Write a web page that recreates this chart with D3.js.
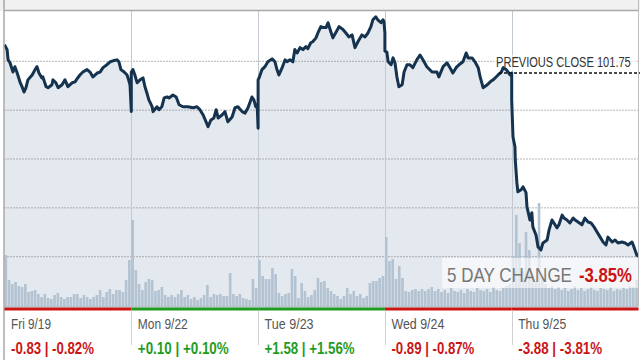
<!DOCTYPE html>
<html>
<head>
<meta charset="utf-8">
<script src="https://cdn.jsdelivr.net/npm/d3@7/dist/d3.min.js"></script>
<style>
  html, body { margin: 0; padding: 0; background: #fff; }
  svg { display: block; font-family: "Liberation Sans", Arial, sans-serif; }
</style>
</head>
<body>
<svg id="chart" width="640" height="360"></svg>
<script>
// five trading days, intraday prices as [minutes after open, price]
const days = ["Fri 9/19", "Mon 9/22", "Tue 9/23", "Wed 9/24", "Thu 9/25"];
const dayChange = [-0.83, 0.10, 1.58, -0.89, -3.88];
const dayChangePct = [-0.82, 0.10, 1.56, -0.87, -3.81];
const previousClose = 101.75;
const fiveDayChangePct = -3.85;
const priceGrid = [98, 99, 100, 101, 102];

const priceFri = [[0,102.33],[8,102.23],[11,102.02],[17,101.96],[26,101.77],[32,101.88],[38,101.77],[48,101.56],[54,101.47],[60,101.36],[66,101.45],[72,101.61],[85,101.71],[94,101.82],[100,101.88],[106,101.75],[115,101.65],[118,101.67],[128,101.47],[134,101.45],[146,101.51],[149,101.61],[158,101.55],[165,101.45],[177,101.51],[186,101.61],[195,101.47],[208,101.55],[217,101.57],[223,101.63],[232,101.71],[241,101.77],[254,101.82],[263,101.77],[272,101.67],[285,101.75],[294,101.77],[303,101.86],[315,101.92],[325,101.98],[334,102.00],[346,102.02],[352,101.98],[358,101.82],[368,101.77],[377,101.71],[380,101.65],[386,101.51],[390,100.96]];
const priceMon = [[0,101.77],[5,101.82],[11,101.71],[18,101.55],[27,101.61],[36,101.65],[42,101.47],[48,101.34],[54,101.20],[64,101.06],[67,100.96],[79,101.06],[85,101.00],[94,101.06],[101,101.24],[110,101.26],[116,101.24],[128,101.30],[138,101.26],[147,101.10],[159,101.06],[174,101.06],[190,101.04],[202,101.06],[211,101.00],[221,100.89],[230,100.75],[236,100.65],[245,100.79],[254,100.83],[261,101.00],[267,100.83],[279,100.89],[288,100.96],[297,100.75],[310,100.85],[319,101.04],[328,101.06],[341,100.96],[350,100.93],[359,101.04],[371,101.26],[377,101.20],[383,101.06],[387,101.10],[390,100.62]];
const priceTue = [[0,101.61],[3,101.65],[12,101.82],[21,101.88],[30,101.98],[43,102.04],[52,101.98],[58,101.82],[64,101.71],[74,101.86],[83,102.02],[89,101.98],[98,102.02],[107,101.98],[113,102.23],[120,102.16],[129,102.27],[138,102.23],[147,102.29],[153,102.25],[162,102.37],[168,102.39],[178,102.47],[184,102.57],[193,102.70],[199,102.68],[209,102.68],[215,102.78],[224,102.59],[230,102.47],[240,102.59],[249,102.70],[261,102.64],[270,102.57],[279,102.49],[289,102.53],[298,102.27],[307,102.39],[319,102.53],[329,102.49],[338,102.57],[347,102.70],[353,102.84],[362,102.90],[368,102.84],[378,102.78],[384,102.84],[387,102.80],[390,102.57]];
const priceWed = [[0,102.20],[6,102.18],[10,101.98],[19,101.92],[25,102.06],[31,101.96],[37,101.67],[43,101.47],[53,101.51],[59,101.77],[68,101.92],[77,101.92],[86,101.86],[98,102.02],[108,102.12],[117,102.02],[129,101.88],[145,101.77],[160,101.77],[166,101.67],[179,101.88],[191,101.96],[200,101.86],[209,101.75],[219,101.86],[228,101.92],[240,101.98],[250,102.16],[256,102.06],[268,102.06],[277,101.98],[287,101.86],[293,101.67],[302,101.45],[315,101.51],[324,101.57],[333,101.61],[342,101.67],[348,101.71],[358,101.77],[364,101.86],[373,101.82],[379,101.77],[385,101.71],[390,101.75]];
const priceThu = [[0,101.20],[4,100.44],[10,100.24],[11,99.97],[16,99.50],[19,99.32],[29,99.36],[35,99.42],[44,99.30],[47,99.01],[56,98.74],[62,98.89],[65,98.60],[75,98.43],[81,98.19],[90,98.13],[96,98.27],[109,98.33],[115,98.54],[124,98.74],[130,98.68],[139,98.58],[145,98.64],[155,98.84],[161,98.78],[170,98.74],[179,98.68],[189,98.78],[195,98.74],[204,98.70],[216,98.64],[225,98.78],[235,98.70],[244,98.68],[253,98.60],[262,98.50],[272,98.39],[281,98.29],[290,98.23],[296,98.39],[309,98.29],[318,98.33],[327,98.27],[339,98.29],[349,98.27],[358,98.23],[370,98.29],[376,98.19],[385,98.02],[390,98.00]];

// 10-minute volume, thousands of shares
const volFri = [510,260,220,240,200,190,220,140,150,160,120,90,120,80,70,110,130,90,70,90,90,120,120,80,110,90,70,90,110,160,90,140,170,120,160,160,140,260,460];
const volMon = [860,360,220,160,240,270,260,150,160,190,110,90,110,90,120,160,90,110,70,90,60,80,110,210,90,120,110,120,100,100,330,120,100,120,80,70,60,270,180];
const volTue = [460,300,270,270,380,320,130,100,120,130,370,300,80,230,150,90,110,160,280,240,250,180,150,120,100,70,100,180,120,150,100,120,80,100,230,250,250,280,300];
const volWed = [690,450,470,270,400,280,150,140,160,170,150,170,150,170,190,150,170,140,160,130,180,150,140,160,130,170,150,140,180,160,150,170,140,190,160,150,180,200,220];
const volThu = [500,910,630,350,740,560,300,250,1030,300,220,180,200,170,190,160,180,150,170,200,160,180,150,170,190,160,150,180,170,160,190,150,170,160,180,170,200,190,260];

const prices = [priceFri, priceMon, priceTue, priceWed, priceThu];
const volumes = [volFri, volMon, volTue, volWed, volThu];
const minutesPerDay = 390;
const volStep = 10;

const svg = d3.select("#chart");
const W = 640, H = 360;
const plotTop = 11, plotBottom = 306, plotLeft = 4.5, plotRight = 638.5;

const x = d3.scaleLinear().domain([0, days.length * minutesPerDay]).range([plotLeft, plotRight]);
const y = d3.scaleLinear().domain([96.98, 103.02]).range([plotBottom, plotTop]);
const yVol = d3.scaleLinear().domain([0, 1000]).range([plotBottom, plotBottom - 100]);

const series = prices.flatMap((day, i) => day.map(([t, p]) => ({ t: i * minutesPerDay + t, p })));
const volData = volumes.flatMap((day, i) => day.map((v, j) => ({ t: i * minutesPerDay + j * volStep, v })));

const red = "#cc1414", green = "#1f9c1f";

// squeeze a text to a given width (the original type is narrow)
function fit(sel, px, py, w) {
    sel.each(function (d, i) {
        const t = d3.select(this);
        const n = this.getComputedTextLength();
        const tw = typeof w === "function" ? w(d, i) : w;
        const tx = typeof px === "function" ? px(d, i) : px;
        t.attr("transform", `translate(${tx},${py}) scale(${tw / n},1)`);
    });
}

// top strip
svg.append("rect").attr("x", 0).attr("y", 0).attr("width", W).attr("height", plotTop).attr("fill", "#f1f1f1");

// area under the price
svg.append("path")
    .datum(series)
    .attr("fill", "#e4e9f0")
    .attr("d", d3.area().x(d => x(d.t)).y0(plotBottom + 1).y1(d => y(d.p)));

// dotted price grid
svg.append("g")
    .attr("transform", `translate(${plotLeft},0)`)
    .call(d3.axisLeft(y).tickValues(priceGrid).tickSize(-(plotRight - plotLeft)).tickFormat(""))
    .call(g => g.select(".domain").remove())
    .call(g => g.selectAll(".tick line")
        .attr("stroke", "#6f6f6f")
        .attr("stroke-dasharray", "1,2"));

// day dividers
svg.append("g")
    .selectAll("line")
    .data(d3.range(1, days.length))
    .join("line")
    .attr("x1", i => Math.round(x(i * minutesPerDay)) + 0.5)
    .attr("x2", i => Math.round(x(i * minutesPerDay)) + 0.5)
    .attr("y1", plotTop)
    .attr("y2", plotBottom)
    .attr("stroke", "#c3c9d1");

// volume bars
svg.append("g")
    .selectAll("rect")
    .data(volData)
    .join("rect")
    .attr("x", d => x(d.t))
    .attr("width", d => x(d.t + volStep) - x(d.t) - 0.6)
    .attr("y", d => yVol(d.v))
    .attr("height", d => plotBottom - yVol(d.v))
    .attr("fill", "#b3c3d1");

svg.append("rect").attr("x", plotLeft).attr("y", plotBottom).attr("width", plotRight - plotLeft).attr("height", 1.5).attr("fill", "#b7c4cf");

// previous close label background
svg.append("rect")
    .attr("x", 494).attr("y", 55).attr("width", 142).attr("height", 15)
    .attr("fill", "#fff").attr("opacity", 0.6);

// price line
svg.append("path")
    .datum(series)
    .attr("fill", "none")
    .attr("stroke", "#15334f")
    .attr("stroke-width", 3)
    .attr("stroke-linejoin", "round")
    .attr("d", d3.line().x(d => x(d.t)).y(d => y(d.p)));

svg.append("line")
    .attr("x1", 499).attr("x2", W)
    .attr("y1", y(previousClose)).attr("y2", y(previousClose))
    .attr("stroke", "#111").attr("stroke-width", 1.4).attr("stroke-dasharray", "3,2");

svg.append("text")
    .attr("font-size", 14).attr("fill", "#333")
    .text("PREVIOUS CLOSE " + previousClose.toFixed(2))
    .call(fit, 496, 67, 135);

// 5 day change box
svg.append("rect")
    .attr("x", 442).attr("y", 258).attr("width", W - 442).attr("height", 30)
    .attr("fill", "#fff").attr("opacity", 0.6);
svg.append("text")
    .attr("font-size", 21).attr("fill", "#777")
    .text("5 DAY CHANGE")
    .call(fit, 447, 282, 125);
svg.append("text")
    .attr("font-size", 21).attr("font-weight", "bold")
    .attr("fill", fiveDayChangePct < 0 ? red : green)
    .text(fiveDayChangePct.toFixed(2) + "%")
    .call(fit, 579, 282, 53);

// frame
svg.append("line").attr("x1", plotLeft - 0.5).attr("x2", plotRight).attr("y1", plotTop - 0.5).attr("y2", plotTop - 0.5)
    .attr("stroke", "#a9a9a9").attr("stroke-width", 1.5);
svg.append("line").attr("x1", plotLeft - 0.5).attr("x2", plotLeft - 0.5).attr("y1", 0).attr("y2", H)
    .attr("stroke", "#a9a9a9").attr("stroke-width", 1.5);
svg.append("line").attr("x1", plotRight).attr("x2", plotRight).attr("y1", 0).attr("y2", plotBottom)
    .attr("stroke", "#bdbdbd");

// day strip at the bottom
const labelW = [40, 50, 49, 53, 48];
const changeW = [83, 91, 90, 83, 84];
const fmt = v => (v > 0 ? "+" : "") + v.toFixed(2);

const dayG = svg.append("g")
    .selectAll("g")
    .data(days.map((d, i) => ({ label: d, chg: dayChange[i], pct: dayChangePct[i], i })))
    .join("g");

dayG.append("rect")
    .attr("x", d => x(d.i * minutesPerDay))
    .attr("width", d => x((d.i + 1) * minutesPerDay) - x(d.i * minutesPerDay))
    .attr("y", plotBottom + 1.5)
    .attr("height", 3)
    .attr("fill", d => d.chg < 0 ? red : green);

dayG.filter(d => d.i > 0).append("line")
    .attr("x1", d => Math.round(x(d.i * minutesPerDay)) + 0.5)
    .attr("x2", d => Math.round(x(d.i * minutesPerDay)) + 0.5)
    .attr("y1", plotBottom + 4.5)
    .attr("y2", 345)
    .attr("stroke", "#cfcfcf");

dayG.append("text")
    .attr("font-size", 15)
    .attr("fill", "#555")
    .text(d => d.label)
    .call(fit, d => x(d.i * minutesPerDay) + 6.5, 329, d => labelW[d.i]);

dayG.append("text")
    .attr("font-size", 16)
    .attr("font-weight", "bold")
    .attr("fill", d => d.chg < 0 ? red : green)
    .text(d => `${fmt(d.chg)} | ${fmt(d.pct)}%`)
    .call(fit, d => x(d.i * minutesPerDay) + 6.5, 354, d => changeW[d.i]);
</script>
</body>
</html>
